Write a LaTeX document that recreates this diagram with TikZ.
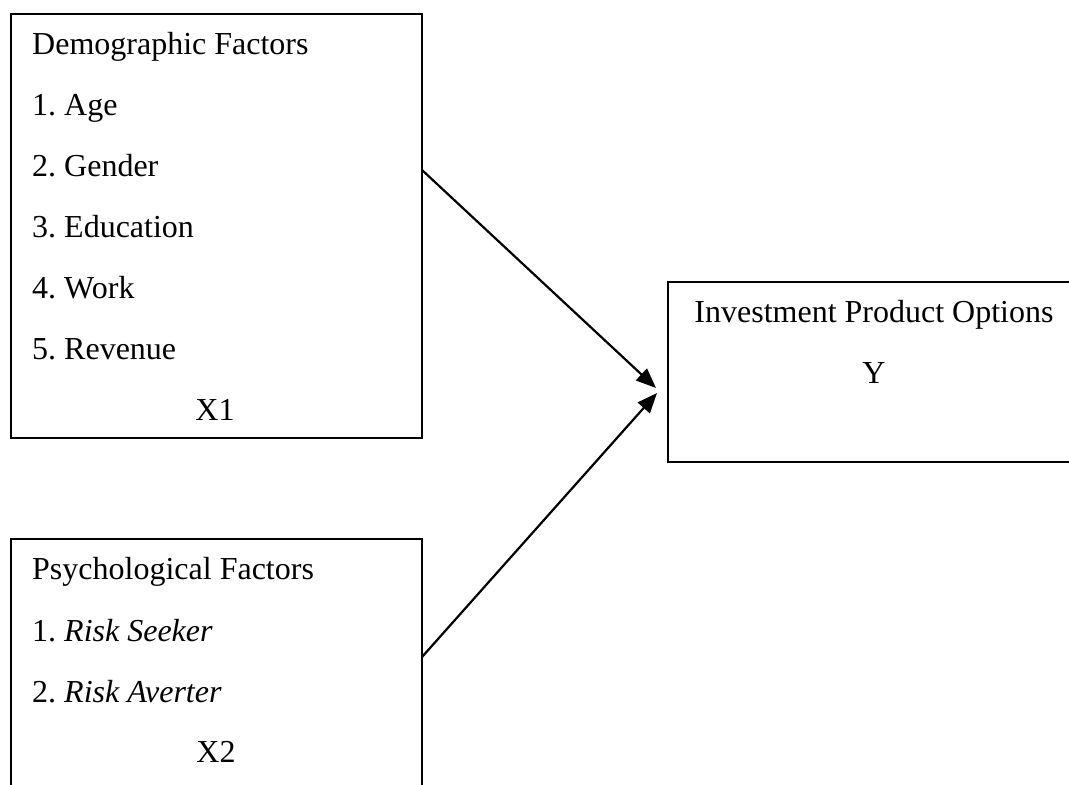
\documentclass[tikz,border=0pt]{standalone}
\usepackage{fontspec}
\setmainfont{Liberation Serif}
\usetikzlibrary{arrows.meta}
\frenchspacing
\begin{document}
\begin{tikzpicture}[x=1pt,y=-1pt,
  box/.style={draw, line width=2pt, inner sep=0pt, outer sep=0pt},
  txt/.style={anchor=base west, inner sep=0pt, font=\fontsize{32}{38}\selectfont\frenchspacing},
  ctxt/.style={anchor=base, inner sep=0pt, font=\fontsize{32}{38}\selectfont},
  link/.style={line width=2.2pt, -{Triangle[length=20pt,width=16pt]}}]
\useasboundingbox (0,0) rectangle (1069,785);
\clip (0,0) rectangle (1069,785);
% boxes
\node[box, minimum width=411pt, minimum height=424pt] (demo) at (216.5,226) {};
\node[box, minimum width=411pt, minimum height=291pt] (psy) at (216.5,684.5) {};
\node[box, minimum width=422pt, minimum height=180pt] (inv) at (879,372) {};
% texts box 1
\node[txt] (d0) at (32,54) {Demographic Factors};
\node[txt] (d1) at (32,115) {1. Age};
\node[txt] (d2) at (32,176) {2. Gender};
\node[txt] (d3) at (32,237) {3. Education};
\node[txt] (d4) at (32,298) {4. Work};
\node[txt] (d5) at (32,359) {5. Revenue};
\node[ctxt] (x1) at (215,420) {X1};
% texts box 2
\node[txt] (p0) at (32,579) {Psychological Factors};
\node[txt] (p1) at (32,641) {1. \textit{Risk Seeker}};
\node[txt] (p2) at (32,702) {2. \textit{Risk Averter}};
\node[ctxt] (x2) at (216,762) {X2};
% texts box 3
\node[ctxt] (i0) at (874,322) {Investment Product Options};
\node[ctxt] (iy) at (874,383) {Y};
% connectors
\coordinate (s1) at (422,170);
\coordinate (t1) at (656,388);
\coordinate (s2) at (422,657);
\coordinate (t2) at (657,393);
\draw[link] (s1) -- (t1);
\draw[link] (s2) -- (t2);
\end{tikzpicture}
\end{document}
